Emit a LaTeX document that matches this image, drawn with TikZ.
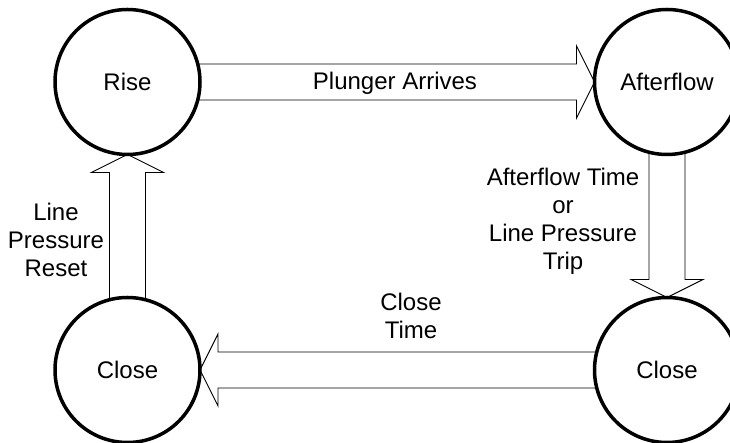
\documentclass[tikz,border=0pt]{standalone}
\usepackage{fontspec}
\setmainfont{Liberation Sans}
\usepackage{tikz}
\usetikzlibrary{calc}

\tikzset{
  state/.style={draw, circle, line width=3.5pt, minimum size=145pt, inner sep=0pt, outer sep=0pt},
  fat/.style={line width=0.9pt, line join=miter},
  lbl/.style={align=center, inner sep=0pt}
}

\begin{document}
\begin{tikzpicture}[x=1pt, y=1pt, font=\fontsize{24}{28}\selectfont]
			\useasboundingbox (0,0) rectangle (730,443);
			\clip (0,0) rectangle (730,443);
			
			\node[state] (rise) at (127.5,361) {Rise};
			\node[state] (aflow) at (667,361) {Afterflow};
			\node[state] (closer) at (667,73) {Close};
			\node[state] (closel) at (127.5,73) {Close};
			
			% rise -> afterflow
			\draw[fat] ([xshift=-2pt,yshift=18pt]rise.east) -- ([xshift=-18pt,yshift=18pt]aflow.west) -- ([xshift=-18pt,yshift=36pt]aflow.west) -- (aflow.west) -- ([xshift=-18pt,yshift=-36pt]aflow.west) -- ([xshift=-18pt,yshift=-18pt]aflow.west) -- ([xshift=-2pt,yshift=-18pt]rise.east);
			% afterflow -> close
			\draw[fat] ([xshift=-18pt,yshift=2pt]aflow.south) -- ([xshift=-18pt,yshift=18pt]closer.north) -- ([xshift=-36pt,yshift=18pt]closer.north) -- (closer.north) -- ([xshift=36pt,yshift=18pt]closer.north) -- ([xshift=18pt,yshift=18pt]closer.north) -- ([xshift=18pt,yshift=2pt]aflow.south);
			% close -> close
			\draw[fat] ([xshift=2pt,yshift=18pt]closer.west) -- ([xshift=18pt,yshift=18pt]closel.east) -- ([xshift=18pt,yshift=36pt]closel.east) -- (closel.east) -- ([xshift=18pt,yshift=-36pt]closel.east) -- ([xshift=18pt,yshift=-18pt]closel.east) -- ([xshift=2pt,yshift=-18pt]closer.west);
			% close -> rise
			\draw[fat] ([xshift=-18pt,yshift=-2pt]closel.north) -- ([xshift=-18pt,yshift=-18pt]rise.south) -- ([xshift=-36pt,yshift=-18pt]rise.south) -- (rise.south) -- ([xshift=36pt,yshift=-18pt]rise.south) -- ([xshift=18pt,yshift=-18pt]rise.south) -- ([xshift=18pt,yshift=-2pt]closel.north);
			
			\node[lbl] (plunger) at (395,360) {Plunger Arrives};
			\node[lbl] (aftime) at (563,221.5) {Afterflow Time\\or\\Line Pressure\\Trip};
			\node[lbl] (ctime) at (411,127) {Close\\Time};
			\node[lbl] (preset) at (56,203.5) {Line\\Pressure\\Reset};
		\end{tikzpicture}
\end{document}
